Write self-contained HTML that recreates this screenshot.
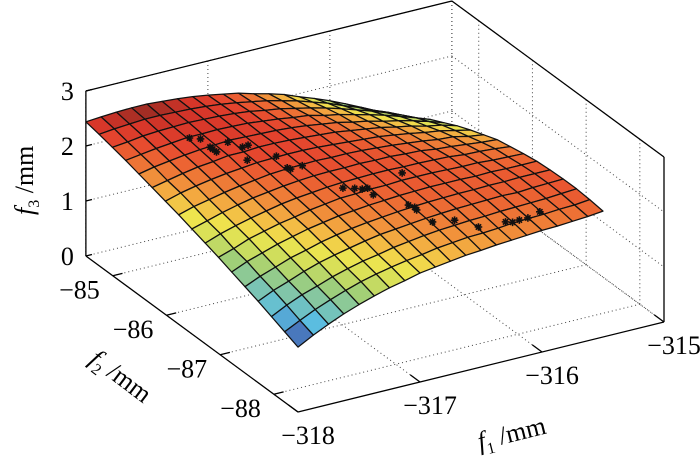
<!DOCTYPE html>
<html><head><meta charset="utf-8"><style>
html,body{margin:0;padding:0;background:#fff;}
svg{display:block;}
text{font-family:"Liberation Serif","Times New Roman",serif;fill:#000;}
</style></head><body>
<svg id="chart" width="700" height="461" viewBox="0 0 700 461" xmlns="http://www.w3.org/2000/svg">
<g id="grid"></g>
<g id="box"></g>
<g id="surf"></g>
<g id="pts"></g>
<g id="labels"></g>
</svg>
<script>
// ---- data ----
const f1Grid = [-318,-317.875,-317.75,-317.625,-317.5,-317.375,-317.25,-317.125,-317,-316.875,-316.75,-316.625,-316.5,-316.375,-316.25,-316.125,-316,-315.875,-315.75,-315.625,-315.5];
const f2Grid = [-88.45,-88.203,-87.956,-87.709,-87.463,-87.216,-86.969,-86.722,-86.475,-86.228,-85.981,-85.734,-85.488,-85.241,-84.994,-84.747,-84.5];
const f3Rows = [
[1.18,1.33,1.46,1.58,1.68,1.77,1.85,1.91,1.98,2.02,2.06,2.10,2.12,2.15,2.17,2.19,2.21,2.22,2.24,2.26,2.29],
[1.28,1.42,1.55,1.66,1.76,1.85,1.92,1.98,2.03,2.07,2.12,2.15,2.18,2.19,2.21,2.24,2.25,2.26,2.28,2.29,2.32],
[1.38,1.52,1.64,1.73,1.83,1.91,1.98,2.03,2.09,2.13,2.17,2.20,2.22,2.24,2.25,2.27,2.28,2.29,2.30,2.32,2.34],
[1.48,1.61,1.71,1.82,1.91,1.98,2.04,2.10,2.15,2.18,2.21,2.24,2.26,2.28,2.29,2.30,2.31,2.30,2.32,2.33,2.34],
[1.57,1.69,1.79,1.89,1.96,2.04,2.10,2.15,2.19,2.22,2.25,2.27,2.29,2.30,2.31,2.31,2.32,2.32,2.33,2.33,2.33],
[1.66,1.78,1.87,1.96,2.03,2.10,2.15,2.20,2.23,2.26,2.28,2.30,2.31,2.32,2.32,2.32,2.31,2.32,2.31,2.31,2.31],
[1.75,1.84,1.95,2.02,2.09,2.14,2.20,2.24,2.28,2.29,2.31,2.31,2.33,2.33,2.33,2.32,2.31,2.31,2.29,2.28,2.27],
[1.83,1.93,2.01,2.08,2.14,2.20,2.24,2.27,2.30,2.32,2.33,2.34,2.34,2.33,2.33,2.32,2.31,2.28,2.27,2.25,2.22],
[1.91,1.99,2.07,2.14,2.20,2.24,2.28,2.31,2.33,2.34,2.34,2.35,2.34,2.34,2.32,2.31,2.27,2.25,2.22,2.19,2.17],
[1.99,2.07,2.13,2.19,2.24,2.28,2.32,2.34,2.35,2.36,2.35,2.35,2.34,2.32,2.30,2.27,2.24,2.20,2.18,2.12,2.08],
[2.06,2.14,2.20,2.25,2.29,2.32,2.35,2.36,2.37,2.37,2.36,2.34,2.32,2.30,2.28,2.24,2.20,2.15,2.11,2.05,1.99],
[2.13,2.19,2.25,2.30,2.33,2.37,2.37,2.39,2.39,2.38,2.36,2.34,2.32,2.28,2.24,2.20,2.14,2.09,2.02,1.97,1.89],
[2.20,2.26,2.30,2.34,2.37,2.39,2.41,2.40,2.39,2.38,2.36,2.33,2.29,2.25,2.19,2.14,2.07,2.01,1.94,1.86,1.77],
[2.27,2.31,2.35,2.38,2.41,2.41,2.42,2.41,2.40,2.37,2.34,2.30,2.27,2.20,2.15,2.08,2.01,1.93,1.84,1.75,1.65],
[2.33,2.36,2.40,2.42,2.43,2.44,2.43,2.42,2.40,2.37,2.32,2.28,2.22,2.16,2.09,2.01,1.92,1.83,1.73,1.62,1.50],
[2.39,2.42,2.44,2.46,2.46,2.45,2.44,2.42,2.39,2.35,2.30,2.25,2.18,2.11,2.02,1.93,1.82,1.72,1.60,1.49,1.35],
[2.44,2.46,2.48,2.49,2.49,2.47,2.45,2.42,2.38,2.33,2.28,2.20,2.13,2.05,1.94,1.84,1.73,1.61,1.48,1.33,1.18]
];
const ptF1 = [-317.49,-317.43,-317.44,-317.44,-317.44,-317.29,-317.24,-317.19,-317.32,-317.09,-317.12,-317.11,-317.01,-316.91,-316.84,-316.80,-316.76,-316.78,-316.42,-316.65,-316.63,-316.64,-316.62,-316.47,-316.38,-316.18,-316.14,-316.08,-316.01,-315.89];
const ptF2 = [-85.27,-85.34,-85.54,-85.59,-85.66,-85.53,-85.69,-85.68,-85.96,-85.98,-86.25,-86.29,-86.28,-86.81,-86.87,-86.92,-86.93,-87.08,-86.80,-87.44,-87.51,-87.57,-87.82,-87.89,-88.13,-88.18,-88.22,-88.21,-88.21,-88.16];
const ptF3 = [2.42,2.42,2.42,2.42,2.42,2.42,2.42,2.42,2.42,2.38,2.38,2.38,2.38,2.30,2.30,2.30,2.30,2.30,2.30,2.30,2.30,2.30,2.25,2.25,2.25,2.27,2.27,2.27,2.27,2.28];
const f1Ticks = [-318,-317,-316,-315];
const f2Ticks = [-85,-86,-87,-88];
const f3Ticks = [0,1,2,3];

// ---- axes ----
const F1MIN=-318,F1MAX=-315,F2MIN=-88.45,F2MAX=-84.5,ZMIN=0,ZMAX=3;
function px(f1,f2,z){return 298+122*(f1-F1MIN)-53.7*(f2-F2MIN);}
function py(f1,f2,z){return 412-30*(f1-F1MIN)-39.5*(f2-F2MIN)-55*(z-ZMIN);}
function depth(f1,f2){return 30*(f1-F1MIN)+39.5*(f2-F2MIN);}
const NS='http://www.w3.org/2000/svg';
function mk(tag,attrs,parent){const e=document.createElementNS(NS,tag);for(const k in attrs)e.setAttribute(k,attrs[k]);parent.appendChild(e);return e;}
function P(f1,f2,z){return px(f1,f2,z).toFixed(1)+','+py(f1,f2,z).toFixed(1);}

const gG=document.getElementById('grid'),gB=document.getElementById('box'),gS=document.getElementById('surf'),gP=document.getElementById('pts'),gL=document.getElementById('labels');
const dot={stroke:'#444','stroke-width':1,'stroke-dasharray':'1 3',fill:'none'};
function dl(a,b,name){const l=mk('line',Object.assign({x1:a[0],y1:a[1],x2:b[0],y2:b[1]},dot),gG);

}
function pt(f1,f2,z){return [px(f1,f2,z),py(f1,f2,z)];}
f3Ticks.forEach(z=>{
 dl(pt(F1MIN,F2MAX,z),pt(F1MAX,F2MAX,z),'z-gridline-back');
 dl(pt(F1MAX,F2MAX,z),pt(F1MAX,F2MIN,z),'z-gridline-right');
});
f1Ticks.forEach(v=>{
 dl(pt(v,F2MIN,0),pt(v,F2MAX,0),'f1-gridline-floor');
 dl(pt(v,F2MAX,0),pt(v,F2MAX,ZMAX),'f1-gridline-wall');
});
f2Ticks.forEach(v=>{
 dl(pt(F1MIN,v,0),pt(F1MAX,v,0),'f2-gridline-floor');
 dl(pt(F1MAX,v,0),pt(F1MAX,v,ZMAX),'f2-gridline-wall');
});
dl(pt(F1MAX,F2MAX,0),pt(F1MAX,F2MAX,ZMAX),'back-edge');
function sl(a,b,name){const l=mk('line',{x1:a[0],y1:a[1],x2:b[0],y2:b[1],stroke:'#000','stroke-width':1.3},gB);

}
sl(pt(F1MIN,F2MAX,0),pt(F1MIN,F2MAX,ZMAX),'z-axis');
sl(pt(F1MIN,F2MAX,ZMAX),pt(F1MAX,F2MAX,ZMAX),'box-top-back');
sl(pt(F1MAX,F2MAX,ZMAX),pt(F1MAX,F2MIN,ZMAX),'box-top-right');
sl(pt(F1MAX,F2MIN,ZMAX),pt(F1MAX,F2MIN,0),'box-right-edge');
sl(pt(F1MIN,F2MAX,0),pt(F1MIN,F2MIN,0),'f2-axis');
sl(pt(F1MIN,F2MIN,0),pt(F1MAX,F2MIN,0),'f1-axis');
f3Ticks.forEach(z=>{const a=pt(F1MIN,F2MAX,z),b=pt(F1MIN+0.05,F2MAX,z);sl(a,b,'z-tick');});
f2Ticks.forEach(v=>{const a=pt(F1MIN,v,0),b=pt(F1MIN+0.08,v,0);sl(a,b,'f2-tick');});
f1Ticks.forEach(v=>{const a=pt(v,F2MIN,0),b=pt(v,F2MIN+0.18,0);sl(a,b,'f1-tick');});

// ---- surface ----
const zAll=f3Rows.flat();const cmin=Math.min(...zAll),cmax=Math.max(...zAll);
const stops=[[0,[58,63,143]],[0.1,[74,124,192]],[0.2,[91,190,224]],[0.32,[124,196,176]],[0.44,[160,207,120]],[0.54,[212,223,90]],[0.62,[239,229,78]],[0.7,[244,185,68]],[0.78,[240,140,58]],[0.85,[236,102,51]],[0.91,[229,69,46]],[0.96,[214,53,41]],[1,[142,42,34]]];
function cmap(z){let t=(z-cmin)/(cmax-cmin);t=Math.max(0,Math.min(1,t));
 for(let i=1;i<stops.length;i++){if(t<=stops[i][0]){const a=stops[i-1],b=stops[i];const s=(t-a[0])/(b[0]-a[0]);
 const c=a[1].map((v,j)=>Math.round(v+(b[1][j]-v)*s));return 'rgb('+c.join(',')+')';}}
 return 'rgb(142,42,34)';}
const quads=[];
for(let k=0;k<f2Grid.length-1;k++)for(let i=0;i<f1Grid.length-1;i++){
 const za=f3Rows[k][i],zb=f3Rows[k][i+1],zc=f3Rows[k+1][i+1],zd=f3Rows[k+1][i];
 quads.push({k,i,d:depth((f1Grid[i]+f1Grid[i+1])/2,(f2Grid[k]+f2Grid[k+1])/2),z:(za+zb+zc+zd)/4,
 pts:[P(f1Grid[i],f2Grid[k],za),P(f1Grid[i+1],f2Grid[k],zb),P(f1Grid[i+1],f2Grid[k+1],zc),P(f1Grid[i],f2Grid[k+1],zd)].join(' ')});
}
quads.sort((a,b)=>b.d-a.d);
quads.forEach(q=>{const p=mk('polygon',{points:q.pts,fill:cmap(q.z),stroke:'#111','stroke-width':1.25,'stroke-linejoin':'round'},gS);

});

// ---- points ----
for(let j=0;j<ptF1.length;j++){
 const x=px(ptF1[j],ptF2[j],ptF3[j]),y=py(ptF1[j],ptF2[j],ptF3[j]);const r=3.8;
 const g=mk('path',{d:`M${x-r},${y}H${x+r}M${x},${y-r}V${y+r}M${x-r*0.7},${y-r*0.7}L${x+r*0.7},${y+r*0.7}M${x-r*0.7},${y+r*0.7}L${x+r*0.7},${y-r*0.7}`,stroke:'#111','stroke-width':1.6,fill:'none'},gP);
 
 
}

// ---- labels ----
function txt(s,x,y,anchor,name){const t=mk('text',{x:x,y:y,'text-anchor':anchor,'font-size':26},gL);t.textContent=s;

return t;}
f3Ticks.forEach(z=>{const a=pt(F1MIN,F2MAX,z);txt(String(z),a[0]-12,a[1]+9,'end','z-tick-label');});
f2Ticks.forEach(v=>{const a=pt(F1MIN,v,0);txt('\u2212'+Math.abs(v),a[0]-13,a[1]+23,'end','f2-tick-label');});
f1Ticks.forEach(v=>{const a=pt(v,F2MIN,0);txt('\u2212'+Math.abs(v),a[0]+10,a[1]+32,'middle','f1-tick-label');});
const t3=mk('text',{transform:'translate(33,215) rotate(-90)','font-size':26},gL);


t3.innerHTML='<tspan font-style="italic">f</tspan><tspan font-size="16" dy="6">3</tspan><tspan dy="-6"> /mm</tspan>';
const t2=mk('text',{transform:'translate(88,362) rotate(37)','font-size':26},gL);


t2.innerHTML='<tspan font-style="italic">f</tspan><tspan font-size="16" dy="6">2</tspan><tspan dy="-6"> /mm</tspan>';
const t1=mk('text',{transform:'translate(480,450) rotate(-14)','font-size':26},gL);


t1.innerHTML='<tspan font-style="italic">f</tspan><tspan font-size="16" dy="6">1</tspan><tspan dy="-6"> /mm</tspan>';
</script>
</body></html>
